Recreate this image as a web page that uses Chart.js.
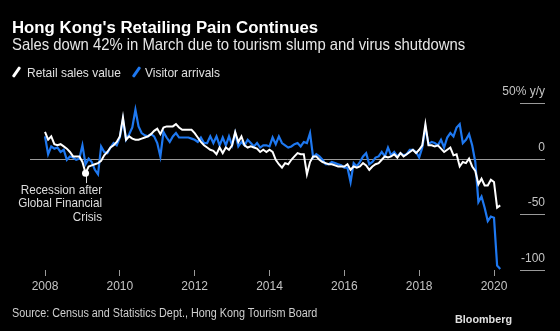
<!DOCTYPE html>
<html>
<head>
<meta charset="utf-8">
<script src="https://cdn.jsdelivr.net/npm/chart.js@4.4.0/dist/chart.umd.min.js"></script>
<style>
  html, body { margin:0; padding:0; background:#000; }
  #wrap { position:relative; width:560px; height:331px; background:#000; overflow:hidden;
          font-family:"Liberation Sans", Arial, sans-serif; }
  #wrap canvas { position:absolute; left:0; top:0; }
  .txt { position:absolute; white-space:nowrap; line-height:1.15; transform-origin:left top; }
  .cond { transform:scaleX(0.9); }
  #title { left:12px; top:17.5px; font-size:16.8px; font-weight:bold; color:#fff; }
  #subtitle { left:12px; top:35px; font-size:16.5px; color:#e6e6e6; }
  .legtxt { top:64.5px; font-size:13.3px; color:#e0e0e0; }
  .key { position:absolute; top:66px; width:3px; height:12px; border-radius:1px; transform:rotate(35deg); }
  #source { left:12px; top:306.5px; font-size:12px; color:#cfcfcf; }
  #brand { left:455px; top:312.5px; font-size:10.8px; font-weight:bold; color:#e0e0e0; }
</style>
</head>
<body>
<div id="wrap">
  <canvas id="chart" width="560" height="331"></canvas>
  <div id="title" class="txt">Hong Kong's Retailing Pain Continues</div>
  <div id="subtitle" class="txt cond">Sales down 42% in March due to tourism slump and virus shutdowns</div>
  <div class="key" style="left:15px;background:#fff"></div>
  <div class="txt cond legtxt" style="left:27px">Retail sales value</div>
  <div class="key" style="left:135px;background:#1e78f0"></div>
  <div class="txt cond legtxt" style="left:145px">Visitor arrivals</div>
  <div id="source" class="txt cond">Source: Census and Statistics Dept., Hong Kong Tourism Board</div>
  <div id="brand" class="txt">Bloomberg</div>
</div>
<script>
// monthly y/y % change, Jan 2008 .. Mar 2020
const startYear = 2008;
const retailSales = [
  24, 17, 20, 13, 12, 13, 11, 9, 6, 2, 2, 2,
  -3, -13, -7, -6, -5, -4, -2, 3, 6, 10, 12, 15,
  20, 37, 17, 20, 18, 17, 17, 18, 19, 20, 22, 25,
  27, 22, 28, 29, 29, 29, 31, 28, 26, 26, 26, 26,
  23, 19, 15, 12, 10, 8, 7, 4, 10, 5, 10, 8,
  12, 24, 15, 20, 12, 10, 11, 10, 9, 6, 8, 6,
  8, 6, -1, -5, -8, -4, -5, -1, 2, 5, 4, 4,
  -14, -3, 2, 2, -1, -3, -4, -5, -5, -6, -7, -7,
  -7, -5, -10, -7, -8, -7, -4, -6, -10, -7, -5, -4,
  -1, 2, 1, 2, 4, 1, 5, 2, 4, 6, 8, 5,
  8, 12, 31, 12, 12, 11, 12, 9, 6, 8, 10, 3,
  4, -7, -3, -4, 0, -7, -11, -23, -18, -24, -24, -19,
  -21, -44, -42
];
const visitorArrivals = [
  20, 4, 11, 9, 10, 6, 8, -1, 2, 1, -1, 0,
  12, -5, 0, -3, -10, -14, 11, 6, 5, 10, 14, 12,
  19, 35, 17, 22, 28, 44, 29, 23, 21, 20, 22, 20,
  14, 2, 24, 19, 15, 20, 23, 19, 19, 19, 19, 18,
  17, 15, 19, 14, 14, 20, 14, 20, 12, 19, 12, 20,
  12, 23, 11, 15, 12, 17, 14, 11, 14, 10, 12, 12,
  11, 19, 13, 20, 14, 12, 10, 11, 13, 14, 11, 15,
  14, 23, 1, 4, 2, -1, -5, -5, -3, -4, -5, -6,
  -8, -8, -21, -4, -7, -3, 2, 5, -5, -3, 1, 2,
  6, 2, 10, 3, 6, 2, 5, 3, 4, 8, 8, 6,
  1, 10, 28, 13, 15, 14, 12, 17, 10, 19, 23, 20,
  28, 31, 14, 17, 22, 12, -3, -39, -34, -44, -56, -52,
  -53, -96, -99
];
const yearTicks = [2008, 2010, 2012, 2014, 2016, 2018, 2020];
const yTicks = [50, 0, -50, -100];
const yLabels = ['50% y/y', '0', '-50', '-100'];
const noteIndex = 13; // Feb 2009
const noteLines = ['Recession after', 'Global Financial', 'Crisis'];

const toPoints = arr => arr.map((v, i) => ({ x: startYear + i / 12, y: v }));

const bbgAxis = {
  id: 'bbgAxis',
  beforeDatasetsDraw(chart) {
    const { ctx, chartArea, scales: { y } } = chart;
    ctx.save();
    ctx.strokeStyle = '#9a9a9a';
    ctx.lineWidth = 1;
    ctx.font = '12px "Liberation Sans", Arial, sans-serif';
    ctx.fillStyle = '#c4c4c4';
    ctx.textAlign = 'right';
    ctx.textBaseline = 'middle';
    yTicks.forEach((v, i) => {
      const py = Math.round(y.getPixelForValue(v)) + 0.5;
      ctx.beginPath();
      ctx.moveTo(v === 0 ? chartArea.left : chartArea.right - 25, py);
      ctx.lineTo(chartArea.right, py);
      ctx.stroke();
      ctx.fillText(yLabels[i], chartArea.right, py - 11.5);
    });
    ctx.restore();
  },
  afterDatasetsDraw(chart) {
    const { ctx } = chart;
    const pt = chart.getDatasetMeta(0).data[noteIndex];
    ctx.save();
    ctx.strokeStyle = '#dddddd';
    ctx.lineWidth = 1;
    ctx.beginPath();
    ctx.moveTo(Math.round(pt.x) + 0.5, pt.y);
    ctx.lineTo(Math.round(pt.x) + 0.5, pt.y + 10);
    ctx.stroke();
    ctx.fillStyle = '#ffffff';
    ctx.beginPath();
    ctx.arc(pt.x, pt.y, 3.5, 0, Math.PI * 2);
    ctx.fill();
    ctx.fillStyle = '#dcdcdc';
    ctx.font = '13px "Liberation Sans", Arial, sans-serif';
    ctx.textAlign = 'right';
    ctx.textBaseline = 'middle';
    noteLines.forEach((t, i) => {
      ctx.save();
      ctx.translate(pt.x + 16.5, pt.y + 17 + i * 13.5);
      ctx.scale(0.9, 1);
      ctx.fillText(t, 0, 0);
      ctx.restore();
    });
    ctx.restore();
  }
};

new Chart(document.getElementById('chart'), {
  type: 'line',
  data: {
    datasets: [{
      label: 'Retail sales value',
      data: toPoints(retailSales),
      borderColor: '#ffffff',
      borderWidth: 2,
      pointRadius: 0,
      tension: 0
    }, {
      label: 'Visitor arrivals',
      data: toPoints(visitorArrivals),
      borderColor: '#1e78f0',
      borderWidth: 2.2,
      pointRadius: 0,
      tension: 0
    }]
  },
  options: {
    responsive: false,
    animation: false,
    events: [],
    layout: { padding: { left: 30, right: 15, top: 103, bottom: 34.6 } },
    plugins: { legend: { display: false }, tooltip: { enabled: false } },
    scales: {
      x: {
        type: 'linear',
        min: 2007.599,
        max: 2021.363,
        afterBuildTicks: scale => { scale.ticks = yearTicks.map(v => ({ value: v })); },
        border: { display: false },
        grid: { drawOnChartArea: false, drawTicks: true, tickLength: 6, color: '#9a9a9a' },
        ticks: {
          padding: 3,
          maxRotation: 0,
          autoSkip: false,
          color: '#c4c4c4',
          font: { family: '"Liberation Sans", Arial, sans-serif', size: 12 },
          callback: v => String(v)
        }
      },
      y: {
        display: false,
        min: -100,
        max: 50
      }
    }
  },
  plugins: [bbgAxis]
});
</script>
</body>
</html>
